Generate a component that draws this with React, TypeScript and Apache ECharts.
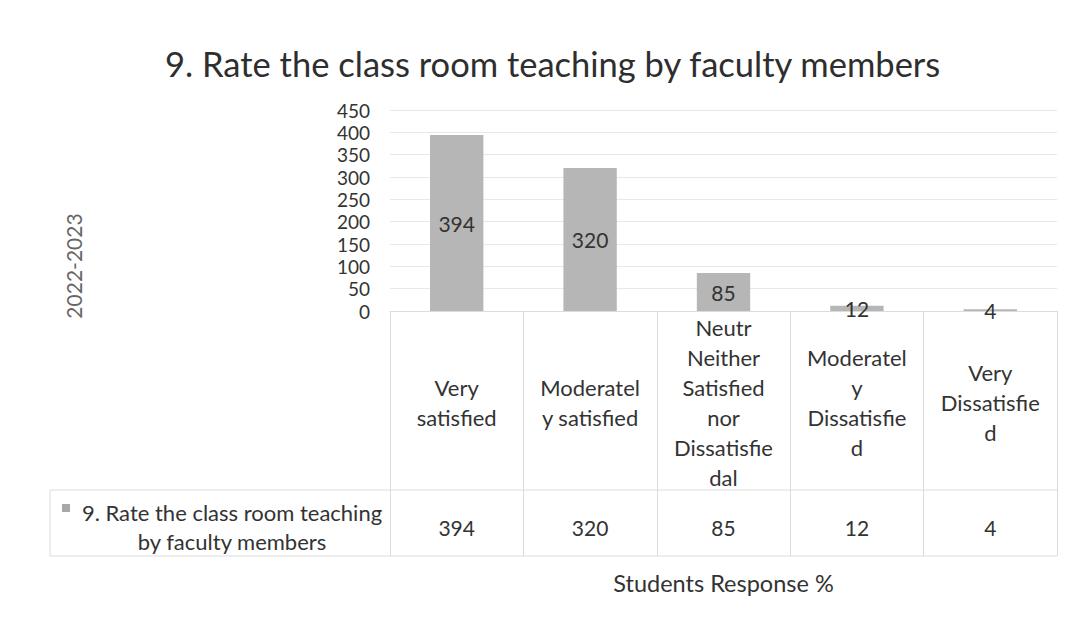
import React, { useEffect, useRef } from "react";
import * as echarts from "echarts";

const chartTitle = "9. Rate the class room teaching by faculty members";
const seriesName = "9. Rate the class room teaching\nby faculty members";
const categories = [
  "Very\nsatisfied",
  "Moderatel\ny satisfied",
  "Neutr\nNeither\nSatisfied\nnor\nDissatisfie\ndal",
  "Moderatel\ny\nDissatisfie\nd",
  "Very\nDissatisfie\nd",
];
const values = [394, 320, 85, 12, 4];
const yTicks = { min: 0, max: 450, interval: 50 };
const yAxisTitle = "2022-2023";
const xAxisTitle = "Students Response %";

const FONT = "Lato, 'Open Sans', sans-serif";

export default function App() {
  const ref = useRef<HTMLDivElement>(null);
  useEffect(() => {
    document.body.style.margin = "0";
    const chart = echarts.init(ref.current!, null, { renderer: "svg" });
    const lineColor = "#dcdcdc";
    chart.setOption({
      animation: false,
      backgroundColor: "#ffffff",
      textStyle: { fontFamily: FONT },
      title: {
        text: chartTitle,
        left: 160,
        top: 41,
        textStyle: { fontSize: 34.5, fontWeight: "normal", color: "#2e2e2e", fontFamily: FONT },
      },
      grid: { left: 390, right: 18, top: 110, bottom: 313, containLabel: false },
      xAxis: [
        {
          type: "category",
          data: categories,
          axisLine: { show: true, lineStyle: { color: lineColor } },
          axisTick: { show: true, length: 245, lineStyle: { color: lineColor } },
          axisLabel: {
            interval: 0,
            margin: 91,
            verticalAlign: "middle",
            align: "center",
            fontSize: 22,
            lineHeight: 30,
            color: "#333",
            fontFamily: FONT,
          },
        },
        {
          type: "category",
          position: "bottom",
          data: values.map(String),
          axisLine: { show: false },
          axisTick: { show: false },
          axisLabel: {
            interval: 0,
            margin: 216,
            verticalAlign: "middle",
            fontSize: 21,
            color: "#333",
            fontFamily: FONT,
          },
          name: xAxisTitle,
          nameLocation: "middle",
          nameGap: 272,
          nameTextStyle: { fontSize: 23.5, color: "#333", fontFamily: FONT, verticalAlign: "middle" },
        },
      ],
      yAxis: {
        type: "value",
        min: yTicks.min,
        max: yTicks.max,
        interval: yTicks.interval,
        axisLine: { show: false },
        axisTick: { show: false },
        axisLabel: { fontSize: 19, lineHeight: 19, color: "#333", margin: 20, fontFamily: FONT },
        splitLine: { show: true, lineStyle: { color: "#e8e8e8" } },
      },
      series: [
        {
          type: "bar",
          name: seriesName,
          xAxisIndex: 0,
          data: values,
          barWidth: "40%",
          itemStyle: { color: "#b6b6b6" },
          label: {
            show: true,
            position: "inside",
            fontSize: 21,
            color: "#333",
            fontFamily: FONT,
          },
        },
      ],
      graphic: [
        { type: "line", shape: { x1: 50, y1: 490, x2: 1057, y2: 490 }, style: { stroke: lineColor, lineWidth: 1 } },
        { type: "line", shape: { x1: 50, y1: 556, x2: 1057, y2: 556 }, style: { stroke: lineColor, lineWidth: 1 } },
        { type: "line", shape: { x1: 50, y1: 490, x2: 50, y2: 556 }, style: { stroke: lineColor, lineWidth: 1 } },
        { type: "rect", shape: { x: 62, y: 504, width: 8, height: 8 }, style: { fill: "#a8a8a8" } },
        {
          type: "text",
          x: 232,
          y: 527,
          style: {
            text: seriesName,
            fontSize: 22,
            lineHeight: 29,
            fill: "#333",
            fontFamily: FONT,
            align: "center",
            verticalAlign: "middle",
          },
        },
        {
          type: "text",
          x: 73,
          y: 266,
          rotation: Math.PI / 2,
          style: {
            text: yAxisTitle,
            fontSize: 21,
            fill: "#666",
            fontFamily: FONT,
            align: "center",
            verticalAlign: "middle",
          },
        },
      ],
    });
    return () => chart.dispose();
  }, []);
  return <div ref={ref} style={{ width: 1075, height: 624 }} />;
}
